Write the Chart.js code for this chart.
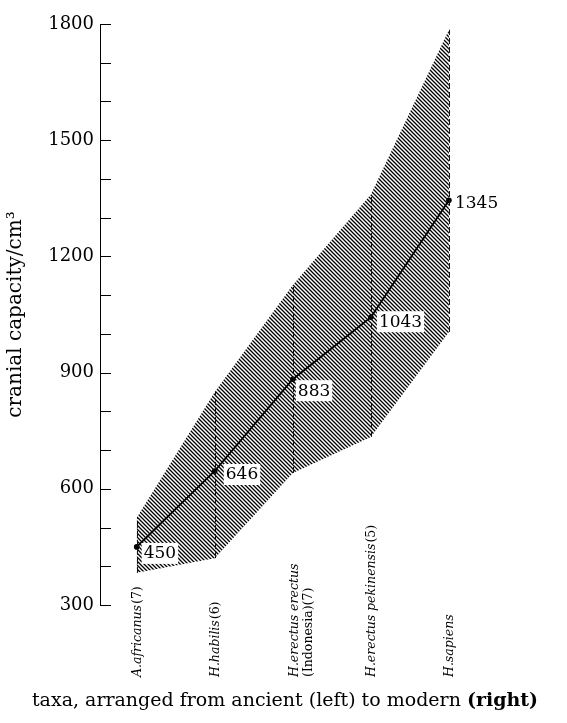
<!DOCTYPE html>
<html>
<head>
<meta charset="utf-8">
<script src="https://cdn.jsdelivr.net/npm/chart.js@4.4.1/dist/chart.umd.min.js"></script>
<style>
  html, body { margin: 0; padding: 0; background: #fff; }
  #wrap { width: 567px; height: 723px; position: relative; }
</style>
</head>
<body>
<div id="wrap"><canvas id="c"></canvas></div>
<script>
// ---- data ----
const taxa = ['A.africanus', 'H.habilis', 'H.erectus erectus', 'H.erectus pekinensis', 'H.sapiens'];
const sampleNotes = ['(7)', '(6)', '(Indonesia)(7)', '(5)', ''];
const meanCapacity = [450, 646, 883, 1043, 1345];
const maxCapacity = [525, 850, 1126, 1360, 1785];
const minCapacity = [383, 421, 641, 734, 1005];
const yTickLabels = ['300', '600', '900', '1200', '1500', '1800'];
const yAxisTitle = 'cranial capacity/cm\u00B3';
const xTitleParts = ['taxa, arranged from ancient (left) to modern ', '(right)'];

// ---- label placement (style, not data) ----
const valueLabelDx = [7, 11, 5, 8, 6];
const valueLabelDy = [6, 3, 11, 4, 2];

const SERIF = '"DejaVu Serif", "Liberation Serif", serif';

function hatchPattern() {
  const c = document.createElement('canvas');
  c.width = 4; c.height = 4;
  const g = c.getContext('2d');
  g.strokeStyle = '#000';
  g.lineWidth = 1.3;
  g.beginPath();
  g.moveTo(-1, -1); g.lineTo(5, 5);
  g.moveTo(-1, 3); g.lineTo(1, 5);
  g.moveTo(3, -1); g.lineTo(5, 1);
  g.stroke();
  return g.createPattern(c, 'repeat');
}

const pts = arr => arr.map((v, i) => ({ x: i, y: v }));

const customDraw = {
  id: 'customDraw',
  afterDatasetsDraw(chart) {
    const { ctx, scales: { x, y } } = chart;
    ctx.save();
    ctx.strokeStyle = '#111';
    ctx.lineWidth = 1;
    ctx.setLineDash([6, 3]);
    taxa.forEach((t, i) => {
      const px = Math.round(x.getPixelForValue(i)) + 0.5;
      ctx.beginPath();
      ctx.moveTo(px, y.getPixelForValue(minCapacity[i]));
      ctx.lineTo(px, y.getPixelForValue(maxCapacity[i]));
      ctx.stroke();
    });
    ctx.restore();
  },
  afterDraw(chart) {
    const { ctx, scales: { x, y } } = chart;
    ctx.save();
    // inward tick marks on y axis
    ctx.strokeStyle = '#000';
    ctx.lineWidth = 1;
    const ax = y.right;
    y.ticks.forEach(t => {
      const py = Math.round(y.getPixelForValue(t.value)) + 0.5;
      ctx.beginPath();
      ctx.moveTo(ax, py);
      ctx.lineTo(ax + 11, py);
      ctx.stroke();
    });

    // value labels with white boxes
    const meta = chart.getDatasetMeta(0);
    ctx.font = '17px ' + SERIF;
    ctx.textBaseline = 'middle';
    ctx.textAlign = 'left';
    meanCapacity.forEach((v, i) => {
      const p = meta.data[i];
      const txt = String(v);
      const w = ctx.measureText(txt).width;
      const lx = p.x + valueLabelDx[i];
      const ly = p.y + valueLabelDy[i];
      ctx.fillStyle = '#fff';
      ctx.fillRect(lx - 2, ly - 10, w + 4, 21);
      ctx.fillStyle = '#000';
      ctx.fillText(txt, lx, ly + 1);
    });

    // rotated category labels
    const startY = 677;
    taxa.forEach((t, i) => {
      const px = x.getPixelForValue(i);
      const note = sampleNotes[i];
      const twoLine = note.length > 4;
      ctx.save();
      ctx.translate(px + (twoLine ? 2 : 1), startY);
      ctx.rotate(-Math.PI / 2);
      ctx.textBaseline = 'middle';
      ctx.textAlign = 'left';
      ctx.fillStyle = '#000';
      ctx.font = 'italic 12.5px ' + SERIF;
      ctx.fillText(t, 0, 0);
      const tw = ctx.measureText(t).width;
      ctx.font = '12.5px ' + SERIF;
      if (twoLine) {
        ctx.fillText(note, 0, 14);
      } else if (note) {
        ctx.fillText(note, tw + 1, 0);
      }
      ctx.restore();
    });

    // x axis title with bold final part
    ctx.textBaseline = 'alphabetic';
    ctx.textAlign = 'left';
    ctx.font = '19px ' + SERIF;
    const w1 = ctx.measureText(xTitleParts[0]).width;
    ctx.font = 'bold 19px ' + SERIF;
    const w2 = ctx.measureText(xTitleParts[1]).width;
    const tx = 285 - (w1 + w2) / 2;
    ctx.fillStyle = '#000';
    ctx.font = '19px ' + SERIF;
    ctx.fillText(xTitleParts[0], tx, 706);
    ctx.font = 'bold 19px ' + SERIF;
    ctx.fillText(xTitleParts[1], tx + w1, 706);
    ctx.restore();
  }
};

new Chart(document.getElementById('c'), {
  type: 'line',
  data: {
    datasets: [
      {
        label: 'mean',
        data: pts(meanCapacity),
        borderColor: '#000',
        borderWidth: 1.8,
        pointRadius: 2.8,
        pointBackgroundColor: '#000',
        pointBorderWidth: 0,
        fill: false,
        tension: 0,
        order: 0
      },
      {
        label: 'max',
        data: pts(maxCapacity),
        borderColor: 'rgba(0,0,0,0)',
        borderWidth: 0,
        pointRadius: 0,
        fill: '+1',
        backgroundColor: hatchPattern(),
        tension: 0,
        order: 1
      },
      {
        label: 'min',
        data: pts(minCapacity),
        borderColor: 'rgba(0,0,0,0)',
        borderWidth: 0,
        pointRadius: 0,
        fill: false,
        tension: 0,
        order: 2
      }
    ]
  },
  options: {
    responsive: true,
    maintainAspectRatio: false,
    animation: false,
    events: [],
    layout: { padding: { top: 24, bottom: 118, left: 0, right: 40 } },
    plugins: { legend: { display: false }, tooltip: { enabled: false } },
    scales: {
      x: {
        type: 'linear',
        display: false,
        min: -0.47,
        max: 5.0
      },
      y: {
        type: 'linear',
        min: 300,
        max: 1800,
        afterFit: s => { s.width = 100; },
        grid: { display: false },
        border: { display: true, color: '#000', width: 1 },
        ticks: {
          stepSize: 100,
          autoSkip: false,
          padding: -2,
          color: '#000',
          font: { family: SERIF, size: 18 },
          callback: v => {
            const s = String(v);
            return yTickLabels.includes(s) ? s : '';
          }
        },
        title: {
          display: true,
          text: yAxisTitle,
          color: '#000',
          font: { family: SERIF, size: 20 },
          padding: { top: 4, bottom: 0 }
        }
      }
    }
  },
  plugins: [customDraw]
});
</script>
</body>
</html>
